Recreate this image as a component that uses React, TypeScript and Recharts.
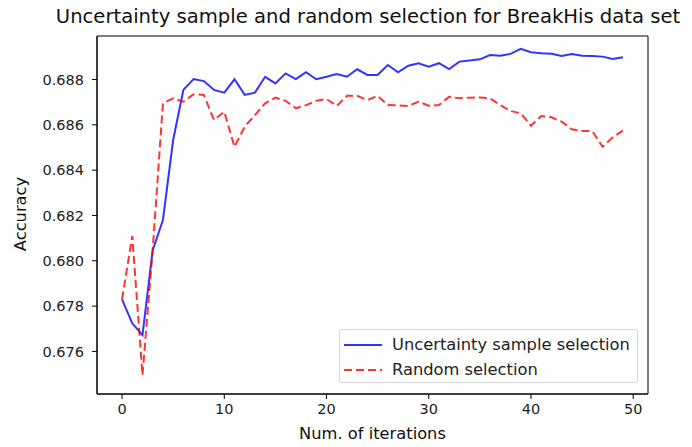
import { Line, LineChart, ReferenceArea, XAxis, YAxis } from "recharts";

const iterations = [
  0, 1, 2, 3, 4, 5, 6, 7, 8, 9, 10, 11, 12, 13, 14, 15, 16, 17, 18, 19, 20, 21, 22, 23, 24,
  25, 26, 27, 28, 29, 30, 31, 32, 33, 34, 35, 36, 37, 38, 39, 40, 41, 42, 43, 44, 45, 46, 47, 48, 49,
];

const uncertainty = [
  0.6783, 0.67724, 0.67672, 0.68047, 0.6818, 0.68533, 0.68754, 0.68802, 0.68793, 0.68754,
  0.68742, 0.68801, 0.68732, 0.68742, 0.68812, 0.68783, 0.68827, 0.68802, 0.68832, 0.68801,
  0.68812, 0.68824, 0.68812, 0.68845, 0.6882, 0.6882, 0.68864, 0.68832, 0.68861, 0.68872,
  0.68857, 0.68872, 0.68846, 0.68879, 0.68884, 0.68889, 0.68908, 0.68905, 0.68913, 0.68935,
  0.6892, 0.68916, 0.68914, 0.68904, 0.68913, 0.68905, 0.68904, 0.68901, 0.68891, 0.68898,
];

const random = [
  0.6783, 0.68109, 0.67495, 0.6805, 0.68695, 0.68717, 0.68702, 0.68735, 0.68732, 0.68621,
  0.68658, 0.68503, 0.68592, 0.68643, 0.68695, 0.6872, 0.68706, 0.68673, 0.68687, 0.68706,
  0.68714, 0.68683, 0.68728, 0.68728, 0.68709, 0.68728, 0.68687, 0.68686, 0.68683, 0.68702,
  0.68684, 0.68687, 0.68724, 0.68717, 0.6872, 0.68721, 0.68717, 0.68687, 0.68661, 0.68651,
  0.68596, 0.68639, 0.68633, 0.68614, 0.6858, 0.68573, 0.68573, 0.68503, 0.68545, 0.68574,
];

const xTicks = [0, 10, 20, 30, 40, 50];
const yTicks = [0.676, 0.678, 0.68, 0.682, 0.684, 0.686, 0.688];

const X_DOMAIN: [number, number] = [-2.45, 51.45];
const Y_DOMAIN: [number, number] = [0.67412, 0.68992];

const FONT = "'DejaVu Sans', sans-serif";
const BLUE = "#0000ff";
const RED = "#ff0000";

const data = iterations.map((x, i) => ({ x, unc: uncertainty[i], rnd: random[i] }));

// matplotlib-style legend box, placed over the lower right of the axes
function LegendBox() {
  const row = (color: string, dash: string | undefined, label: string) => (
    <div style={{ display: "flex", alignItems: "center", height: 25 }}>
      <svg width={38} height={6} style={{ marginLeft: 4, marginRight: 10 }}>
        <line x1={0} y1={3} x2={38} y2={3} stroke={color} strokeOpacity={0.8}
          strokeWidth={2} strokeDasharray={dash} />
      </svg>
      <span>{label}</span>
    </div>
  );
  return (
    <div style={{
      position: "absolute", left: 339, top: 329, zIndex: 2,
      width: 299, height: 54, boxSizing: "border-box", border: "1px solid #d6d6d6",
      borderRadius: 3, background: "rgba(255,255,255,0.8)", paddingTop: 2,
      fontFamily: FONT, fontSize: 16.3, color: "#222", lineHeight: "20px",
    }}>
      {row(BLUE, undefined, "Uncertainty sample selection")}
      {row(RED, "8 4", "Random selection")}
    </div>
  );
}

export default function App() {
  return (
    <div style={{ position: "absolute", left: 0, top: 0, width: 692, height: 447, background: "#fff", fontFamily: FONT }}>
      <div style={{
        position: "absolute", left: 0, width: 736, top: 5, textAlign: "center",
        fontSize: 19.6, color: "#111", whiteSpace: "nowrap",
      }}>
        Uncertainty sample and random selection for BreakHis data set
      </div>
      <div style={{
        position: "absolute", left: 20, top: 214, transform: "translate(-50%, -50%) rotate(-90deg)",
        fontSize: 16.3, color: "#111", whiteSpace: "nowrap",
      }}>
        Accuracy
      </div>
      <div style={{
        position: "absolute", left: 0, width: 745, top: 424, textAlign: "center",
        fontSize: 16.3, color: "#111", whiteSpace: "nowrap",
      }}>
        Num. of iterations
      </div>
      <LineChart width={692} height={447} data={data}
        margin={{ top: 36, right: 44, bottom: 8, left: 37 }}>
        <ReferenceArea x1={X_DOMAIN[0]} x2={X_DOMAIN[1]} y1={Y_DOMAIN[0]} y2={Y_DOMAIN[1]}
          fill="none" fillOpacity={0} stroke="#000" strokeWidth={1} />
        <XAxis type="number" dataKey="x" domain={X_DOMAIN} ticks={xTicks} allowDataOverflow
          height={45} tickSize={5} tickMargin={5} stroke="#000"
          tick={{ fill: "#222", fontSize: 14.5, fontFamily: FONT }} />
        <YAxis type="number" domain={Y_DOMAIN} ticks={yTicks} allowDataOverflow width={60}
          tickSize={5} tickMargin={8} stroke="#000" tickFormatter={(v: number) => v.toFixed(3)}
          tick={{ fill: "#222", fontSize: 14.5, fontFamily: FONT }} />
        <Line type="linear" dataKey="unc" name="Uncertainty sample selection" stroke={BLUE}
          strokeOpacity={0.8} strokeWidth={2} dot={false} isAnimationActive={false} />
        <Line type="linear" dataKey="rnd" name="Random selection" stroke={RED}
          strokeOpacity={0.8} strokeWidth={2} strokeDasharray="8 4" dot={false} isAnimationActive={false} />
      </LineChart>
      <LegendBox />
    </div>
  );
}
